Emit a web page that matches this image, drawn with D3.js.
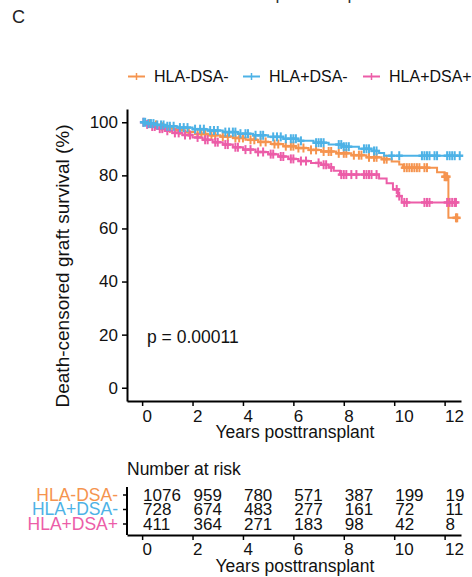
<!DOCTYPE html>
<html>
<head>
<meta charset="utf-8">
<script src="https://cdn.jsdelivr.net/npm/d3@7"></script>
<style>
  body { margin: 0; background: #fff; }
  svg { font-family: "Liberation Sans", Arial, sans-serif; }
</style>
</head>
<body>
<div id="chart"></div>
<script>
// groups and colours
var groups = ["HLA-DSA-", "HLA+DSA-", "HLA+DSA+"];
var colors = ["#F5944F", "#4DB2E6", "#EC5DA8"];

// Kaplan-Meier steps (years, % surviving)
var dsaNegTimes = [0, 0.15, 0.4, 0.7, 1.0, 1.35, 1.7, 2.1, 2.6, 3.1, 3.6, 4.1, 4.6, 5.1, 5.6, 6.1, 6.6, 7.1, 7.7, 8.3, 8.9, 9.5, 9.9, 10.2, 10.35, 11.7, 12.0, 12.15];
var dsaNegSurv  = [100, 99.5, 99, 98.3, 97.7, 97, 96.3, 95.6, 95.1, 94.6, 94.1, 93.4, 92.6, 91.8, 91, 90.3, 89.6, 89, 88.3, 87.6, 86.8, 86.1, 85.2, 84.1, 82.9, 81.2, 79.5, 64];
var dsaNegEnd = 12.5;

var hlaPosTimes = [0, 0.2, 0.5, 0.9, 1.4, 2.0, 2.6, 3.2, 3.8, 4.4, 5.0, 5.6, 6.2, 6.8, 7.4, 8.0, 8.6, 9.1, 9.4, 9.6];
var hlaPosSurv  = [100, 99.5, 99, 98.5, 98, 97.4, 96.9, 96.3, 95.7, 95.1, 94.5, 93.8, 93, 92.3, 91.6, 90.8, 90, 89.2, 88.4, 87.4];
var hlaPosEnd = 12.6;

var dsaPosTimes = [0, 0.1, 0.3, 0.6, 0.9, 1.2, 1.6, 2.0, 2.4, 2.8, 3.2, 3.6, 4.0, 4.5, 5.0, 5.4, 5.8, 6.2, 6.7, 7.1, 7.4, 7.6, 7.85, 9.4, 9.7, 9.95, 10.15, 10.3];
var dsaPosSurv  = [100, 99.2, 98.4, 97.6, 96.8, 96, 95.2, 94.3, 93.4, 92.5, 91.6, 90.6, 89.7, 88.8, 88, 87.1, 86.2, 85.4, 84.7, 84, 83, 81.7, 80.3, 78.8, 77, 74.7, 72.2, 69.8];
var dsaPosEnd = 12.45;

// censoring times (+ marks)
var dsaNegCens = [0.3, 0.55, 0.8, 1.1, 1.5, 1.85, 2.2, 2.35, 2.5, 2.75, 2.9, 3.2, 3.4, 3.7, 3.85, 4.0, 4.3, 4.45, 4.7, 4.9, 5.25, 5.4, 5.7, 5.9, 6.0, 6.2, 6.4, 6.7, 6.9, 7.2, 7.4, 7.5, 7.8, 8.0, 8.1, 8.4, 8.6, 8.7, 9.0, 9.2, 9.3, 9.6, 9.7, 10.4, 10.5, 10.6, 10.7, 10.8, 10.9, 11.0, 11.2, 11.3, 12.0, 12.05, 12.1, 12.45];
var hlaPosCens = [0.05, 0.12, 0.25, 0.35, 0.45, 0.6, 0.75, 0.85, 1.0, 1.1, 1.25, 1.5, 1.65, 1.8, 2.1, 2.3, 2.45, 2.7, 2.85, 3.0, 3.3, 3.45, 3.6, 3.7, 3.9, 4.1, 4.2, 4.5, 4.7, 4.8, 5.2, 5.35, 5.5, 5.7, 5.9, 6.0, 6.1, 6.3, 6.9, 7.0, 7.1, 7.2, 7.8, 7.9, 8.0, 8.1, 8.2, 8.8, 8.9, 9.0, 9.2, 9.3, 9.9, 10.2, 11.1, 11.2, 11.3, 11.4, 11.6, 11.7, 12.1, 12.2, 12.3, 12.4];
var dsaPosCens = [0.05, 0.2, 0.4, 0.5, 0.7, 0.8, 1.0, 1.3, 1.45, 1.7, 1.9, 2.2, 2.5, 2.6, 2.9, 3.0, 3.3, 3.4, 3.7, 3.8, 4.1, 4.3, 4.6, 4.8, 5.1, 5.2, 5.5, 5.6, 5.9, 6.0, 6.3, 6.5, 7.0, 7.2, 7.3, 7.5, 7.9, 8.0, 8.1, 8.3, 8.5, 8.8, 8.9, 9.0, 9.1, 9.3, 10.1, 10.2, 10.4, 10.5, 11.2, 11.3, 11.4, 12.1, 12.2, 12.3, 12.4];

// number at risk
var riskTimes = [0, 2, 4, 6, 8, 10, 12];
var riskDsaNeg = [1076, 959, 780, 571, 387, 199, 19];
var riskHlaPos = [728, 674, 483, 277, 161, 72, 11];
var riskDsaPos = [411, 364, 271, 183, 98, 42, 8];

var yTicks = [0, 20, 40, 60, 80, 100];
var xTicks = [0, 2, 4, 6, 8, 10, 12];
var pText = "p = 0.00011";

var W = 472, H = 577;
var svg = d3.select("#chart").append("svg")
    .attr("width", W)
    .attr("height", H);

var series = [
    { name: groups[0], color: colors[0], times: dsaNegTimes, surv: dsaNegSurv, end: dsaNegEnd, cens: dsaNegCens, risk: riskDsaNeg },
    { name: groups[1], color: colors[1], times: hlaPosTimes, surv: hlaPosSurv, end: hlaPosEnd, cens: hlaPosCens, risk: riskHlaPos },
    { name: groups[2], color: colors[2], times: dsaPosTimes, surv: dsaPosSurv, end: dsaPosEnd, cens: dsaPosCens, risk: riskDsaPos }
];

var xScale = d3.scaleLinear().domain([-0.6, 12.65]).range([127, 461]);
var yScale = d3.scaleLinear().domain([-5, 105]).range([401, 109]);

// clipped text of the panel above and the panel letter
svg.append("text")
    .attr("x", 306).attr("y", -1)
    .attr("text-anchor", "middle")
    .style("font-size", "17.5px")
    .attr("fill", "#333")
    .text("Years posttransplant");

svg.append("text")
    .attr("x", 12).attr("y", 23)
    .style("font-size", "18px")
    .attr("fill", "#222")
    .text("C");

// legend
var legX = [128, 243, 363];
series.forEach(function (s, i) {
    var g = svg.append("g").attr("transform", "translate(" + legX[i] + ",76.5)");
    g.append("line").attr("x1", 0).attr("x2", 17)
        .attr("stroke", s.color).attr("stroke-width", 2);
    g.append("line").attr("x1", 8.5).attr("x2", 8.5).attr("y1", -3.5).attr("y2", 3.5)
        .attr("stroke", s.color).attr("stroke-width", 1.5);
    g.append("text").attr("x", 26).attr("y", 5.8)
        .style("font-size", "16px")
        .attr("fill", "#111")
        .text(s.name);
});

// axes
var yAxis = d3.axisLeft(yScale).tickValues(yTicks).tickSize(5).tickSizeOuter(0).tickPadding(4);
var xAxis = d3.axisBottom(xScale).tickValues(xTicks).tickSize(5).tickSizeOuter(0).tickPadding(4);

var gy = svg.append("g").attr("transform", "translate(127,0)").call(yAxis);
var gx = svg.append("g").attr("transform", "translate(0,401)").call(xAxis);

[gx, gy].forEach(function (g) {
    g.select(".domain").attr("stroke", "#000").attr("stroke-width", 2);
    g.selectAll(".tick line").attr("stroke", "#000").attr("stroke-width", 1.5);
    g.selectAll(".tick text").attr("fill", "#111")
        .style("font-size", "17px").style("font-family", "Liberation Sans, Arial, sans-serif");
});
gx.selectAll(".tick text").attr("text-anchor", "start").attr("x", 0).attr("dy", "0.72em");

svg.append("text")
    .attr("x", 295).attr("y", 438)
    .attr("text-anchor", "middle")
    .style("font-size", "17.5px")
    .attr("fill", "#111")
    .text("Years posttransplant");

svg.append("text")
    .attr("transform", "translate(69,266) rotate(-90)")
    .attr("text-anchor", "middle")
    .style("font-size", "19px")
    .attr("fill", "#111")
    .text("Death-censored graft survival (%)");

svg.append("text")
    .attr("x", 147).attr("y", 343)
    .style("font-size", "17.5px")
    .attr("fill", "#111")
    .text(pText);

// curves
function survAt(s, t) {
    var v = s.surv[0];
    for (var k = 0; k < s.times.length; k++) {
        if (s.times[k] <= t) v = s.surv[k];
    }
    return v;
}

var line = d3.line()
    .x(function (d) { return xScale(d[0]); })
    .y(function (d) { return yScale(d[1]); })
    .curve(d3.curveStepAfter);

// orange first, then pink, then blue on top as in the picture
[0, 2, 1].forEach(function (i) {
    var s = series[i];
    var pts = s.times.map(function (t, k) { return [t, s.surv[k]]; });
    pts.push([s.end, s.surv[s.surv.length - 1]]);

    svg.append("path")
        .datum(pts)
        .attr("d", line)
        .attr("fill", "none")
        .attr("stroke", s.color)
        .attr("stroke-width", 2);

    var marks = s.cens.concat([s.end]);
    svg.append("g").selectAll("line")
        .data(marks)
        .enter().append("line")
        .attr("x1", function (d) { return xScale(d); })
        .attr("x2", function (d) { return xScale(d); })
        .attr("y1", function (d) { return yScale(survAt(s, d)) - 4.5; })
        .attr("y2", function (d) { return yScale(survAt(s, d)) + 4.5; })
        .attr("stroke", s.color)
        .attr("stroke-width", 2);
    svg.append("g").selectAll("line")
        .data(marks)
        .enter().append("line")
        .attr("x1", function (d) { return xScale(d) - 3.5; })
        .attr("x2", function (d) { return xScale(d) + 3.5; })
        .attr("y1", function (d) { return yScale(survAt(s, d)); })
        .attr("y2", function (d) { return yScale(survAt(s, d)); })
        .attr("stroke", s.color)
        .attr("stroke-width", 2.5);
});

// risk table
svg.append("text")
    .attr("x", 127).attr("y", 475)
    .style("font-size", "17.5px")
    .attr("fill", "#111")
    .text("Number at risk");

var rowY = d3.scalePoint().domain(groups).range([494.5, 523.5]);

var riskAxisY = d3.axisLeft(rowY).tickSize(4).tickSizeOuter(0).tickFormat("");
var gry = svg.append("g").attr("transform", "translate(127,0)").call(riskAxisY);
gry.select(".domain").attr("d", "M0,487V535").attr("stroke", "#000").attr("stroke-width", 2);
gry.selectAll(".tick line").attr("stroke", "#000").attr("stroke-width", 1.5);

var grx = svg.append("g").attr("transform", "translate(0,535)").call(xAxis);
grx.select(".domain").attr("stroke", "#000").attr("stroke-width", 2);
grx.selectAll(".tick line").attr("stroke", "#000").attr("stroke-width", 1.5);
grx.selectAll(".tick text").attr("fill", "#111").attr("text-anchor", "start").attr("x", 0).attr("dy", "0.62em")
    .style("font-size", "17px").style("font-family", "Liberation Sans, Arial, sans-serif");

series.forEach(function (s) {
    var yy = rowY(s.name) + 6;
    svg.append("text")
        .attr("x", 118).attr("y", yy)
        .attr("text-anchor", "end")
        .style("font-size", "17.5px")
        .attr("fill", s.color)
        .text(s.name);
    svg.append("g").selectAll("text")
        .data(riskTimes)
        .enter().append("text")
        .attr("x", function (d) { return xScale(d) + 1; })
        .attr("y", yy)
        .style("font-size", "17px")
        .attr("fill", "#111")
        .text(function (d, k) { return s.risk[k]; });
});

svg.append("text")
    .attr("x", 295).attr("y", 572)
    .attr("text-anchor", "middle")
    .style("font-size", "17.5px")
    .attr("fill", "#111")
    .text("Years posttransplant");
</script>
</body>
</html>
